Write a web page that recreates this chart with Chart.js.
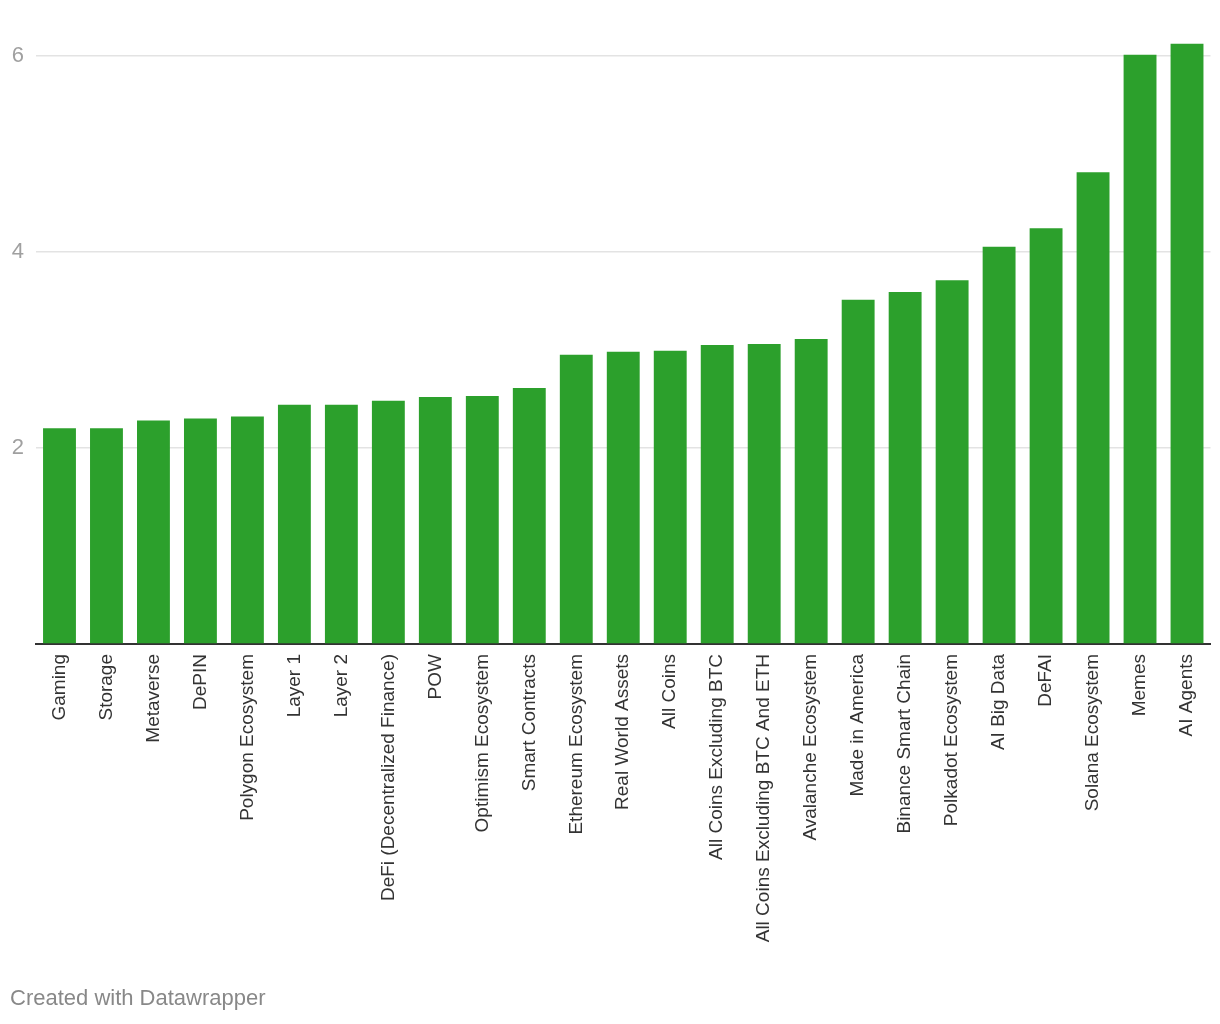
<!DOCTYPE html>
<html lang="en">
<head>
    <meta charset="UTF-8">
    <title>Category Bar Chart</title>
    <script src="https://cdn.jsdelivr.net/npm/chart.js"></script>
    <style>
        body { margin: 0; background: #fff; }
        #wrap { position: relative; width: 1220px; height: 1024px; }
        #footer {
            position: absolute;
            left: 10px;
            top: 987px;
            font: 22px/22px "Liberation Sans", Arial, sans-serif;
            color: #888;
        }
    </style>
</head>
<body>
    <div id="wrap">
        <canvas id="chart" width="1220" height="1024"></canvas>
        <div id="footer">Created with Datawrapper</div>
    </div>

    <script>
        // categories and values
        const categories = [
            "Gaming", "Storage", "Metaverse", "DePIN", "Polygon Ecosystem",
            "Layer 1", "Layer 2", "DeFi (Decentralized Finance)", "POW",
            "Optimism Ecosystem", "Smart Contracts", "Ethereum Ecosystem",
            "Real World Assets", "All Coins", "All Coins Excluding BTC",
            "All Coins Excluding BTC And ETH", "Avalanche Ecosystem",
            "Made in America", "Binance Smart Chain", "Polkadot Ecosystem",
            "AI Big Data", "DeFAI", "Solana Ecosystem", "Memes", "AI Agents"
        ];
        const values = [
            2.20, 2.20, 2.28, 2.30, 2.32,
            2.44, 2.44, 2.48, 2.52,
            2.53, 2.61, 2.95,
            2.98, 2.99, 3.05,
            3.06, 3.11,
            3.51, 3.59, 3.71,
            4.05, 4.24, 4.81, 6.01, 6.12
        ];
        const yTicks = [2, 4, 6];

        const FONT = "'Liberation Sans', Arial, sans-serif";

        new Chart(document.getElementById("chart"), {
            type: "bar",
            data: {
                labels: categories,
                datasets: [{
                    data: values,
                    backgroundColor: "#2ca02c",
                    barPercentage: 0.7,
                    categoryPercentage: 1.0
                }]
            },
            options: {
                responsive: false,
                animation: false,
                layout: { padding: { top: 36, right: 9, left: 0, bottom: 0 } },
                plugins: {
                    legend: { display: false },
                    tooltip: { enabled: false }
                },
                scales: {
                    x: {
                        offset: true,
                        grid: { display: false, drawTicks: false },
                        border: { display: true, color: "#333", width: 2 },
                        ticks: {
                            autoSkip: false,
                            minRotation: 90,
                            maxRotation: 90,
                            padding: 10,
                            color: "#333",
                            font: { family: FONT, size: 19 }
                        },
                        afterFit: function (scale) { scale.height = 380; }
                    },
                    y: {
                        min: 0,
                        max: 6.2,
                        border: { display: false },
                        grid: {
                            drawTicks: false,
                            lineWidth: 1.5,
                            color: function (ctx) {
                                return yTicks.includes(ctx.tick.value) ? "#e3e3e3" : "rgba(0,0,0,0)";
                            }
                        },
                        ticks: {
                            stepSize: 2,
                            includeBounds: false,
                            padding: 12,
                            color: "#a0a0a0",
                            font: { family: FONT, size: 22 },
                            callback: function (v) { return yTicks.includes(v) ? v : ""; }
                        },
                        afterFit: function (scale) { scale.width = 36; }
                    }
                }
            }
        });
    </script>
</body>
</html>
